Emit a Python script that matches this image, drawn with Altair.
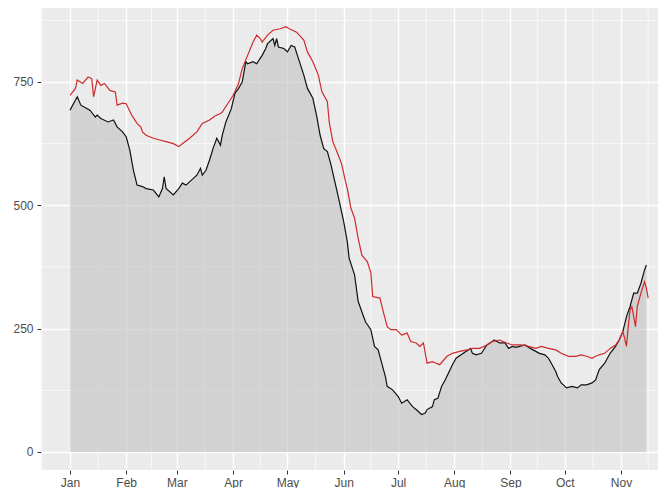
import altair as alt
import pandas as pd

# ---- data (days since Jan 1, value) ----
black_day = [0, 4, 6, 8, 11, 14, 15, 17, 21, 24,
             26, 29, 31, 33, 35, 37, 40, 42, 46, 49,
             51, 52, 53, 57, 60, 62, 64, 67, 70, 72,
             73, 75, 77, 79, 81, 83, 84, 86, 89, 91,
             93, 95, 97, 98, 101, 103, 106, 108, 109, 112,
             113, 114, 115, 118, 120, 122, 124, 126, 129, 131,
             134, 136, 138, 140, 142, 144, 147, 149, 151, 153,
             154, 157, 159, 163, 166, 168, 170, 172, 174, 175,
             178, 181, 183, 186, 189, 191, 194, 196, 197, 200,
             201, 203, 205, 207, 211, 213, 217, 221, 222, 224,
             227, 230, 233, 234, 237, 240, 242, 244, 246, 248,
             251, 254, 257, 259, 262, 264, 266, 268, 269, 271,
             274, 277, 280, 282, 285, 288, 290, 292, 295, 298,
             301, 303, 305, 307, 309, 311, 313, 315, 317, 318]
black_value = [693, 720, 703, 699, 693, 679, 683, 676, 669, 673,
               659, 649, 639, 612, 571, 541, 538, 534, 531, 517,
               534, 558, 534, 521, 534, 545, 541, 551, 561, 575,
               561, 571, 592, 616, 636, 622, 642, 669, 696, 727,
               737, 750, 791, 787, 791, 787, 804, 818, 828, 838,
               824, 838, 821, 818, 811, 824, 821, 798, 764, 737,
               717, 683, 642, 615, 609, 582, 534, 501, 467, 426,
               393, 359, 305, 264, 248, 214, 207, 180, 153, 133,
               126, 113, 99, 106, 92, 86, 76, 79, 86, 92,
               106, 109, 133, 146, 177, 190, 200, 210, 200, 197,
               200, 217, 224, 227, 221, 221, 210, 214, 212, 214,
               217, 210, 204, 200, 197, 190, 177, 163, 153, 140,
               130, 133, 130, 136, 136, 140, 146, 167, 180, 200,
               214, 227, 244, 274, 295, 322, 322, 342, 369, 379]

red_day = [0, 3, 4, 7, 10, 12, 13, 15, 17, 19,
           22, 25, 26, 29, 31, 34, 37, 39, 40, 42,
           46, 50, 53, 57, 60, 62, 66, 70, 73, 77,
           80, 83, 84, 87, 90, 93, 95, 98, 101, 103,
           105, 106, 109, 112, 116, 119, 121, 125, 129, 131,
           134, 137, 139, 142, 143, 145, 148, 150, 152, 153,
           155, 157, 159, 161, 164, 166, 167, 171, 173, 175,
           177, 180, 183, 186, 188, 191, 193, 195, 197, 200,
           202, 204, 208, 211, 215, 219, 222, 226, 230, 233,
           237, 241, 244, 249, 253, 257, 260, 264, 268, 271,
           275, 279, 282, 285, 288, 290, 292, 295, 298, 301,
           303, 305, 306, 307, 308, 309, 310, 312, 313, 315,
           317, 318, 319]
red_value = [723, 737, 754, 747, 760, 757, 720, 754, 743, 747,
             733, 730, 703, 707, 706, 683, 666, 659, 649, 642,
             636, 632, 629, 625, 619, 625, 636, 649, 666, 673,
             681, 686, 689, 706, 723, 747, 777, 804, 831, 845,
             838, 831, 845, 855, 858, 862, 858, 851, 835, 811,
             791, 764, 730, 710, 669, 629, 602, 582, 548, 534,
             494, 474, 433, 399, 386, 363, 315, 312, 282, 254,
             248, 248, 237, 241, 224, 221, 214, 221, 180, 183,
             180, 177, 194, 200, 204, 207, 210, 210, 217, 224,
             227, 221, 217, 217, 214, 210, 214, 210, 207, 200,
             194, 194, 197, 194, 190, 194, 197, 200, 210, 217,
             227, 244, 231, 214, 254, 288, 295, 254, 295, 322,
             345, 332, 312]

y_breaks = [0, 250, 500, 750]
month_numbers = list(range(1, 12))  # Jan .. Nov

base = pd.Timestamp("2021-01-01")
black_df = pd.DataFrame({"date": base + pd.to_timedelta(black_day, unit="D"),
                         "value": black_value})
red_df = pd.DataFrame({"date": base + pd.to_timedelta(red_day, unit="D"),
                       "value": red_value})

# minor grid lines: midway between major breaks (ggplot style)
month_starts = pd.date_range("2020-12-01", "2021-12-01", freq="MS")
minor_x = pd.DataFrame({"date": [a + (b - a) / 2 for a, b in zip(month_starts[:-1], month_starts[1:])]})
ext = y_breaks + [y_breaks[-1] + 250]
minor_y = pd.DataFrame({"value": [(a + b) / 2 for a, b in zip(ext[:-1], ext[1:])]})

FONT = "Liberation Sans"
x_scale = alt.Scale(domain=[alt.DateTime(year=2020, month=12, date=16),
                            alt.DateTime(year=2021, month=11, date=21, hours=10)], nice=False)
y_scale = alt.Scale(domain=[-36.5, 900], nice=False, zero=False)

x_axis = alt.Axis(values=[alt.DateTime(year=2021, month=m, date=1) for m in month_numbers],
                  format="%b", title=None, grid=True, gridColor="white", gridWidth=1.4,
                  domain=False, tickColor="#333333", tickSize=4, tickWidth=1,
                  labelColor="#4D4D4D", labelFont=FONT, labelFontSize=12, labelPadding=3)
y_axis = alt.Axis(values=y_breaks, title=None, grid=True, gridColor="white", gridWidth=1.4,
                  domain=False, tickColor="#333333", tickSize=4, tickWidth=1,
                  labelColor="#4D4D4D", labelFont=FONT, labelFontSize=12, labelPadding=4)

X = alt.X("date:T", scale=x_scale, axis=x_axis)
Y = alt.Y("value:Q", scale=y_scale, axis=y_axis, stack=None)

minor_x_layer = alt.Chart(minor_x).mark_rule(color="white", strokeWidth=0.7).encode(x=X)
minor_y_layer = alt.Chart(minor_y).mark_rule(color="white", strokeWidth=0.7).encode(y=Y)
area = alt.Chart(black_df).mark_area(color="#C1C1C1", opacity=0.6).encode(x=X, y=Y)
black_line = alt.Chart(black_df).mark_line(color="#111111", strokeWidth=1.2).encode(x=X, y=Y)
red_line = alt.Chart(red_df).mark_line(color="#CF2A2A", strokeWidth=1.2).encode(x=X, y=Y)

chart = alt.layer(minor_x_layer, minor_y_layer, area, black_line, red_line).properties(
    width=617, height=462,
    autosize="none",
    padding={"left": 33, "top": 0, "right": 0, "bottom": 18},
).configure_view(fill="#EBEBEB", stroke=None)

chart.save("out.html", embed_options={"renderer": "svg", "actions": False})
